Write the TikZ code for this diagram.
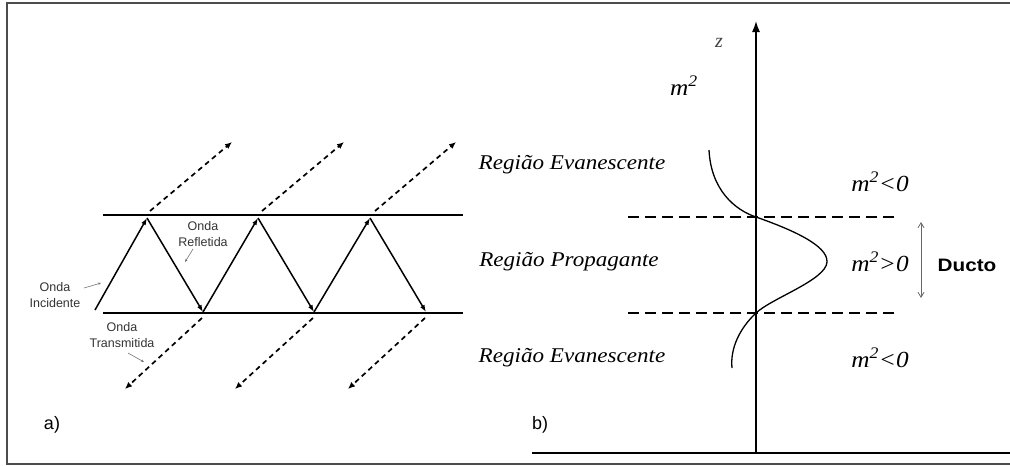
\documentclass[tikz,border=0pt]{standalone}
\usepackage{fontspec}
\setmainfont{Liberation Serif}
\setsansfont{Liberation Sans}
\usetikzlibrary{arrows.meta}
\newcommand\wide[2][1.1]{\scalebox{#1}[1]{#2}}
\begin{document}
\begin{tikzpicture}[x=1pt,y=-1pt,
  frame/.style={draw=black!70,line width=2pt},
  plate/.style={line width=2.8pt,black},
  ray/.style={line width=1.5pt,-{Latex[length=7pt,width=5pt]}},
  tray/.style={line width=1.7pt,dash pattern=on 5pt off 4pt,-{Latex[length=7pt,width=6pt]}},
  note/.style={draw=black!55,line width=0.6pt,-{Stealth[length=3pt,width=2.5pt]}},
  small/.style={font=\fontsize{12.5}{15}\selectfont\sffamily,align=center,text=black!80,inner sep=0pt},
  reg/.style={font=\fontsize{21}{24}\selectfont\itshape,inner sep=0pt},
  mlab/.style={font=\fontsize{23}{26}\selectfont\itshape,inner sep=0pt},
  sub/.style={font=\fontsize{18}{20}\selectfont\sffamily,inner sep=0pt},
  level/.style={line width=1.9pt,dash pattern=on 11pt off 6pt},
  ductarr/.style={draw=black!60,line width=0.8pt,{Straight Barb[length=5pt,width=6pt]}-{Straight Barb[length=5pt,width=6pt]}}
]
\useasboundingbox (0,0) rectangle (1010,466);
\draw[frame] (1014,3) -- (7,3) -- (7,464) -- (1014,464);

% ---------- panel a ----------
\coordinate (tl) at (103,215);
\coordinate (tr) at (463,215);
\coordinate (bl) at (103,313);
\coordinate (br) at (463,313);
\draw[plate] (tl) -- (tr);
\draw[plate] (bl) -- (br);

\coordinate (p0) at (95,310);
\coordinate (t1) at (147,218);
\coordinate (b1) at (203,312);
\coordinate (t2) at (258,218);
\coordinate (b2) at (314,312);
\coordinate (t3) at (370,218);
\coordinate (b3) at (426,312);
\draw[ray] (p0) -- (t1);
\draw[ray] (t1) -- (b1);
\draw[ray] (b1) -- (t2);
\draw[ray] (t2) -- (b2);
\draw[ray] (b2) -- (t3);
\draw[ray] (t3) -- (b3);

\coordinate (u1s) at (150,211); \coordinate (u1e) at (232,142);
\coordinate (u2s) at (262,211); \coordinate (u2e) at (344,142);
\coordinate (u3s) at (375,211); \coordinate (u3e) at (456,142);
\draw[tray] (u1s) -- (u1e);
\draw[tray] (u2s) -- (u2e);
\draw[tray] (u3s) -- (u3e);

\coordinate (d1s) at (202,318); \coordinate (d1e) at (125,389);
\coordinate (d2s) at (313,318); \coordinate (d2e) at (235,389);
\coordinate (d3s) at (425,318); \coordinate (d3e) at (348,389);
\draw[tray] (d1s) -- (d1e);
\draw[tray] (d2s) -- (d2e);
\draw[tray] (d3s) -- (d3e);

\node[small] (oi) at (55,295) {Onda\\[1pt]Incidente};
\node[small] (or) at (203,234) {Onda\\[1pt]Refletida};
\node[small] (ot) at (122,335) {Onda\\[1pt]Transmitida};
\coordinate (oia) at (84,288); \coordinate (oib) at (101,283);
\coordinate (ora) at (193,249); \coordinate (orb) at (185,262);
\coordinate (ota) at (128,353); \coordinate (otb) at (144,362);
\draw[note] (oia) -- (oib);
\draw[note] (ora) -- (orb);
\draw[note] (ota) -- (otb);

\node[sub] (a) at (52,425) {a)};

% ---------- panel b ----------
\coordinate (ax0) at (756,453);
\coordinate (ax1) at (756,21);
\draw[line width=1.4pt,-{Latex[length=11pt,width=8pt]}] (ax0) -- (ax1);
\coordinate (hl) at (532,453);
\coordinate (hr) at (1012,453);
\draw[line width=1.4pt] (hl) -- (hr);

\coordinate (l1a) at (628,217); \coordinate (l1b) at (895,217);
\coordinate (l2a) at (628,313); \coordinate (l2b) at (895,313);
\draw[level] (l1a) -- (l1b);
\draw[level] (l2a) -- (l2b);

\draw[line width=1.3pt] (709,150) .. controls (711,190) and (735,210) .. (756,217)
  .. controls (790,229) and (828,245) .. (827,262)
  .. controls (826,280) and (772,298) .. (756,313)
  .. controls (740,328) and (730,348) .. (732,368);

\node[font=\fontsize{20}{22}\selectfont\itshape,text=black!75] (z) at (719,43) {z};
\node[mlab] (m2) at (684,86) {\wide{m\textsuperscript{2}}};

\node[reg] (ev1) at (572,165) {\wide{Região Evanescente}};
\node[reg] (pr) at (569,262) {\wide{Região Propagante}};
\node[reg] (ev2) at (572,358) {\wide{Região Evanescente}};

\node[mlab] (c1) at (880,182) {\wide{m\textsuperscript{2}<0}};
\node[mlab] (c2) at (880,262) {\wide{m\textsuperscript{2}>0}};
\node[mlab] (c3) at (880,358) {\wide{m\textsuperscript{2}<0}};

\coordinate (du1) at (921,222);
\coordinate (du2) at (921,298);
\draw[ductarr] (du1) -- (du2);
\node[font=\fontsize{18}{20}\selectfont\sffamily\bfseries,inner sep=0pt] (ducto) at (967,265) {\wide[1.15]{Ducto}};

\node[sub,anchor=west] (b) at (532,425) {b)};
\end{tikzpicture}
\end{document}
